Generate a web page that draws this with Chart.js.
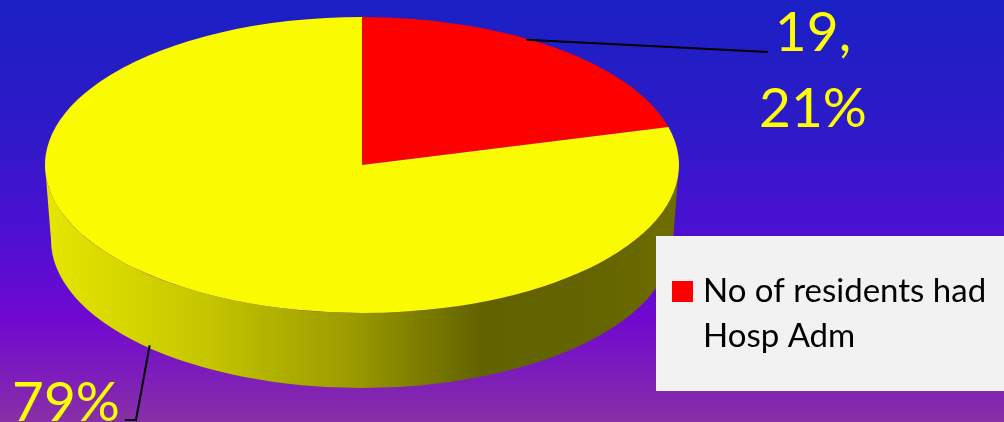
<!DOCTYPE html>
<html>
<head>
<meta charset="utf-8">
<script src="https://cdn.jsdelivr.net/npm/chart.js"></script>
<style>
    html, body { margin: 0; padding: 0; background: #1a20c4; overflow: hidden; }
    #wrap { width: 1004px; height: 422px; position: relative; }
</style>
</head>
<body>
<div id="wrap"><canvas id="pieChart"></canvas></div>
<script>
// data
const categories = ['No of residents had Hosp Adm', 'Others'];
const residentCounts = [19, 72];
const showValue = [true, false];
const sliceColors = ['#ff0000', '#fafa00'];

// layout of the tilted pie (screen px)
const CX = 362, CY = 165, RX = 317, RY = 148, DEPTH = 75;
const FONT = 'Lato, "Open Sans", sans-serif';

function shade(hex, f) {
    const n = parseInt(hex.slice(1), 16);
    const r = Math.round(((n >> 16) & 255) * f);
    const g = Math.round(((n >> 8) & 255) * f);
    const b = Math.round((n & 255) * f);
    return 'rgb(' + r + ',' + g + ',' + b + ')';
}

function wrapText(ctx, text, maxW) {
    const words = text.split(' ');
    const lines = [];
    let line = '';
    words.forEach(function (w) {
        const test = line ? line + ' ' + w : w;
        if (ctx.measureText(test).width > maxW && line) {
            lines.push(line);
            line = w;
        } else {
            line = test;
        }
    });
    if (line) lines.push(line);
    return lines;
}

const pie3d = {
    id: 'pie3d',
    beforeDraw(chart) {
        const ctx = chart.ctx;
        const bg = ctx.createLinearGradient(0, 0, 0, chart.height);
        bg.addColorStop(0, '#1a20c4');
        bg.addColorStop(0.3, '#2e1ac8');
        bg.addColorStop(0.55, '#4c10d2');
        bg.addColorStop(0.75, '#7008d0');
        bg.addColorStop(0.88, '#7c1cbc');
        bg.addColorStop(1, '#8830a6');
        ctx.save();
        ctx.fillStyle = bg;
        ctx.fillRect(0, 0, chart.width, chart.height);
        ctx.restore();
    },
    beforeDatasetsDraw(chart) {
        const ctx = chart.ctx;
        const arcs = chart.getDatasetMeta(0).data;
        const colors = chart.data.datasets[0].backgroundColor;

        // side wall, only the front half is visible
        arcs.forEach(function (arc, i) {
            const a = Math.max(arc.startAngle, 0);
            const b = Math.min(arc.endAngle, Math.PI);
            if (a >= b) return;
            const g = ctx.createLinearGradient(CX - RX, 0, CX + RX, 0);
            g.addColorStop(0, shade(colors[i], 0.92));
            g.addColorStop(0.25, shade(colors[i], 0.79));
            g.addColorStop(0.48, shade(colors[i], 0.62));
            g.addColorStop(0.69, shade(colors[i], 0.39));
            g.addColorStop(0.87, shade(colors[i], 0.40));
            g.addColorStop(1, shade(colors[i], 0.44));
            ctx.save();
            ctx.beginPath();
            ctx.ellipse(CX, CY, RX, RY, 0, a, b, false);
            ctx.ellipse(CX, CY + DEPTH, RX - 6, RY, 0, b, a, true);
            ctx.closePath();
            ctx.fillStyle = g;
            ctx.fill();
            ctx.restore();
        });

        // squash the pie into the top face
        const p = arcs[0];
        const r = p.outerRadius;
        ctx.save();
        ctx.translate(CX, CY);
        ctx.scale(RX / r, RY / r);
        ctx.translate(-p.x, -p.y);
    },
    afterDatasetsDraw(chart) {
        const ctx = chart.ctx;
        ctx.restore();

        const arcs = chart.getDatasetMeta(0).data;
        const values = chart.data.datasets[0].data;
        const total = values.reduce(function (s, v) { return s + v; }, 0);

        ctx.save();
        ctx.strokeStyle = '#000';
        ctx.lineWidth = 2;
        ctx.fillStyle = '#ffff00';
        ctx.font = '55px ' + FONT;
        ctx.textBaseline = 'alphabetic';

        arcs.forEach(function (arc, i) {
            const mid = (arc.startAngle + arc.endAngle) / 2;
            const pct = Math.round(values[i] / total * 100) + '%';
            const lines = showValue[i] ? [values[i] + ',', pct] : [pct];
            const front = Math.sin(mid) > 0;
            const sx = CX + RX * Math.cos(mid);
            const sy = CY + RY * Math.sin(mid) + (front ? DEPTH : 0);

            ctx.beginPath();
            if (front) {
                // label hangs below the pie, left side
                ctx.moveTo(sx - 19, sy - 12);
                ctx.lineTo(136, 420);
                ctx.lineTo(125, 420);
                ctx.stroke();
                ctx.textAlign = 'left';
                ctx.fillText(lines[0], 12, 421);
            } else {
                ctx.moveTo(sx - 29, sy - 8);
                ctx.lineTo(768, 52);
                ctx.stroke();
                ctx.textAlign = 'center';
                lines.forEach(function (t, k) {
                    ctx.fillText(t, 813, 51 + k * 76);
                });
            }
        });
        ctx.restore();
    },
    afterDraw(chart) {
        const ctx = chart.ctx;
        const colors = chart.data.datasets[0].backgroundColor;
        ctx.save();
        ctx.fillStyle = '#f2f2f2';
        ctx.fillRect(656, 236, 360, 155);
        ctx.fillStyle = colors[0];
        ctx.fillRect(672, 281, 21, 21);
        ctx.fillStyle = '#000';
        ctx.font = '33px ' + FONT;
        ctx.textAlign = 'left';
        const lines = wrapText(ctx, chart.data.labels[0], 300);
        lines.forEach(function (t, k) {
            ctx.fillText(t, 703, 302 + k * 45);
        });
        ctx.restore();
    }
};

const ctx = document.getElementById('pieChart');
new Chart(ctx, {
    type: 'pie',
    data: {
        labels: categories,
        datasets: [{
            data: residentCounts,
            backgroundColor: sliceColors,
            borderWidth: 0,
            clip: false
        }]
    },
    options: {
        responsive: true,
        maintainAspectRatio: false,
        animation: false,
        events: [],
        layout: { padding: 0 },
        plugins: {
            legend: { display: false },
            tooltip: { enabled: false }
        }
    },
    plugins: [pie3d]
});
</script>
</body>
</html>
